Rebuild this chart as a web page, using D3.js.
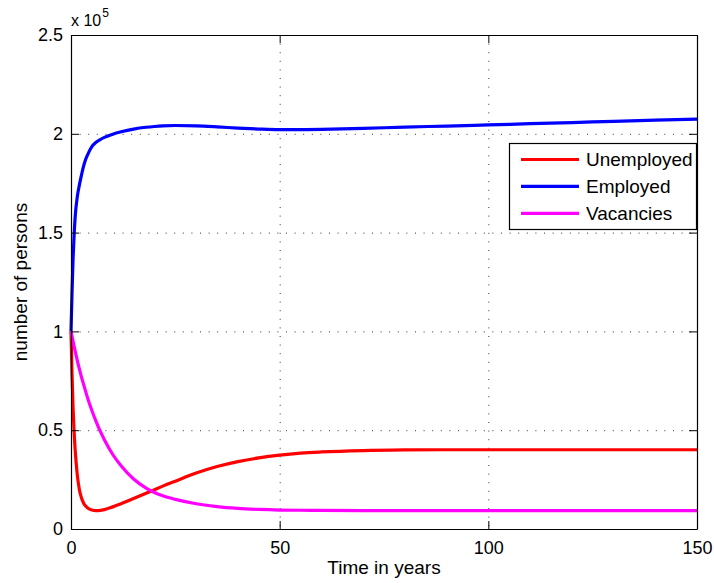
<!DOCTYPE html>
<html>
<head>
<meta charset="utf-8">
<script src="https://cdn.jsdelivr.net/npm/d3@7"></script>
<style>
  body { margin: 0; background: #fff; }
  svg { font-family: "Liberation Sans", Arial, Helvetica, sans-serif; }
</style>
</head>
<body>
<div id="chartArea"></div>
<script>
// Time axis (years) and the three series, in units of 1e5 persons
const years = [0, 0.25, 0.5, 0.75, 1, 1.5, 2, 2.5, 3, 3.5, 4, 5, 6, 7, 8, 10, 12, 15, 18, 20, 22, 25, 30, 35, 40, 45, 50, 55, 60, 70, 80, 90, 100, 110, 120, 130, 140, 150];

const unemployed = [1.0, 0.78, 0.61, 0.49, 0.40, 0.275, 0.2, 0.158, 0.132, 0.116, 0.106, 0.096, 0.093, 0.094, 0.098, 0.112, 0.128, 0.154, 0.181, 0.199, 0.217, 0.242, 0.283, 0.316, 0.341, 0.36, 0.374, 0.384, 0.39, 0.397, 0.40, 0.401, 0.401, 0.401, 0.401, 0.401, 0.401, 0.401];

const employed = [1.0, 1.2, 1.37, 1.49, 1.58, 1.68, 1.74, 1.79, 1.835, 1.87, 1.895, 1.935, 1.957, 1.971, 1.982, 1.998, 2.01, 2.024, 2.033, 2.037, 2.04, 2.042, 2.04, 2.035, 2.029, 2.024, 2.021, 2.021, 2.022, 2.027, 2.034, 2.039, 2.045, 2.051, 2.057, 2.063, 2.069, 2.074];

const vacancies = [1.0, 0.975, 0.95, 0.925, 0.90, 0.853, 0.81, 0.77, 0.733, 0.697, 0.662, 0.6, 0.545, 0.495, 0.452, 0.377, 0.32, 0.253, 0.207, 0.185, 0.168, 0.15, 0.128, 0.113, 0.104, 0.099, 0.096, 0.095, 0.094, 0.093, 0.093, 0.093, 0.093, 0.093, 0.093, 0.093, 0.093, 0.093];

const xTicks = [0, 50, 100, 150];
const yTicks = [0, 0.5, 1, 1.5, 2, 2.5];

const seriesNames = ["Unemployed", "Employed", "Vacancies"];
const seriesColors = ["#ff0000", "#0000ff", "#ff00ff"];

// Chart dimensions
const width = 714;
const height = 583;
const margin = { top: 35, right: 17, bottom: 54, left: 71 };

const svg = d3.select("#chartArea")
  .append("svg")
  .attr("width", width)
  .attr("height", height);

const xScale = d3.scaleLinear()
  .domain([0, 150])
  .range([margin.left, width - margin.right]);

const yScale = d3.scaleLinear()
  .domain([0, 2.5])
  .range([height - margin.bottom, margin.top]);

// Dotted grid
const grid = svg.append("g")
  .attr("stroke", "#333")
  .attr("stroke-width", 1)
  .attr("stroke-dasharray", "1,7.6");

grid.selectAll(".gx")
  .data(xTicks.slice(1, -1))
  .join("line")
  .attr("x1", (d) => xScale(d) + 0.5)
  .attr("x2", (d) => xScale(d) + 0.5)
  .attr("y1", yScale(2.5))
  .attr("y2", yScale(0));

grid.selectAll(".gy")
  .data(yTicks.slice(1, -1))
  .join("line")
  .attr("x1", xScale(0))
  .attr("x2", xScale(150))
  .attr("y1", (d) => yScale(d) + 0.5)
  .attr("y2", (d) => yScale(d) + 0.5);

// Lines
const line = d3.line()
  .x((d) => xScale(d[0]))
  .y((d) => yScale(d[1]))
  .curve(d3.curveMonotoneX);

[unemployed, employed, vacancies].forEach((vals, i) => {
  svg.append("path")
    .datum(years.map((t, j) => [t, vals[j]]))
    .attr("fill", "none")
    .attr("stroke", seriesColors[i])
    .attr("stroke-width", 3.2)
    .attr("stroke-linejoin", "round")
    .attr("d", line);
});

// Axes (ticks point inward, box on)
const fmt = (d) => String(d);

svg.append("g")
  .attr("transform", `translate(0, ${yScale(0)})`)
  .call(d3.axisBottom(xScale).tickValues(xTicks).tickFormat(fmt).tickSize(-8).tickSizeOuter(0).tickPadding(12));

svg.append("g")
  .attr("transform", `translate(${xScale(0)}, 0)`)
  .call(d3.axisLeft(yScale).tickValues(yTicks).tickFormat(fmt).tickSize(-8).tickSizeOuter(0).tickPadding(8));

svg.append("g")
  .attr("transform", `translate(0, ${yScale(2.5)})`)
  .call(d3.axisTop(xScale).tickValues(xTicks).tickFormat("").tickSize(-8).tickSizeOuter(0));

svg.append("g")
  .attr("transform", `translate(${xScale(150)}, 0)`)
  .call(d3.axisRight(yScale).tickValues(yTicks).tickFormat("").tickSize(-8).tickSizeOuter(0));

svg.selectAll(".domain").attr("stroke", "#000").attr("stroke-width", 1.2);
svg.selectAll(".tick line").attr("stroke", "#000");
svg.selectAll(".tick text")
  .attr("fill", "#000")
  .style("font-size", "18px");

// Exponent label
const expo = svg.append("text")
  .attr("x", xScale(0))
  .attr("y", 26)
  .style("font-size", "16px")
  .text("x 10");
expo.append("tspan")
  .attr("dy", -9)
  .attr("dx", 1)
  .style("font-size", "12px")
  .text("5");

// Axis titles
svg.append("text")
  .attr("x", (xScale(0) + xScale(150)) / 2)
  .attr("y", 574)
  .attr("text-anchor", "middle")
  .style("font-size", "19px")
  .text("Time in years");

svg.append("text")
  .attr("transform", `translate(27, ${(yScale(0) + yScale(2.5)) / 2}) rotate(-90)`)
  .attr("text-anchor", "middle")
  .style("font-size", "19px")
  .text("number of persons");

// Legend
const legend = svg.append("g");
legend.append("rect")
  .attr("x", 509.5)
  .attr("y", 143.5)
  .attr("width", 187)
  .attr("height", 86)
  .attr("fill", "#fff")
  .attr("stroke", "#000")
  .attr("stroke-width", 1.2);

const rowY = d3.scalePoint().domain(seriesNames).range([159.5, 213.3]);

seriesNames.forEach((name, i) => {
  legend.append("line")
    .attr("x1", 521)
    .attr("x2", 579)
    .attr("y1", rowY(name))
    .attr("y2", rowY(name))
    .attr("stroke", seriesColors[i])
    .attr("stroke-width", 3.2);
  legend.append("text")
    .attr("x", 586)
    .attr("y", rowY(name))
    .attr("dy", "0.35em")
    .style("font-size", "19px")
    .text(name);
});
</script>
</body>
</html>
